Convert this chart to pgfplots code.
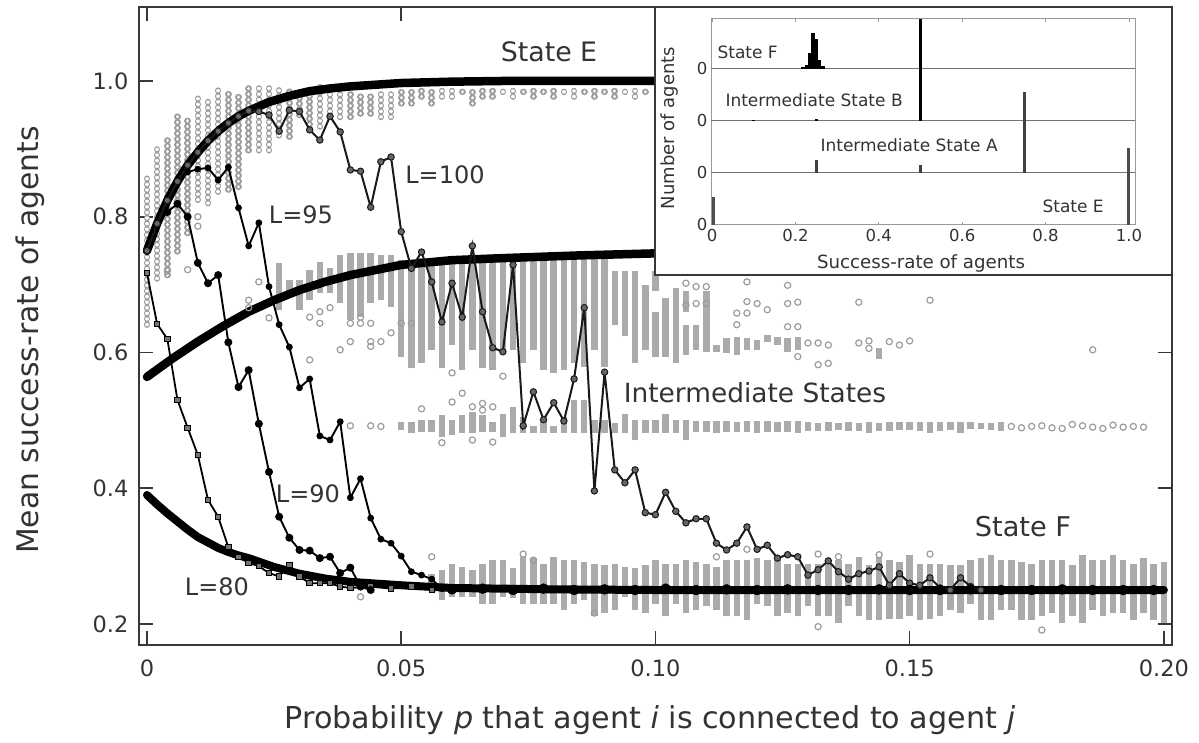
\documentclass[border=0pt]{standalone}
\usepackage{fontspec}
\setmainfont{DejaVu Sans}
\usepackage{pgfplots}
\usepackage{pgfplotstable}
\pgfplotsset{compat=1.18}
\definecolor{txt}{HTML}{333333}
\definecolor{barg}{HTML}{ABABAB}
\definecolor{ring}{HTML}{9C9C9C}
\pgfplotstableread[row sep=\\]{p lo hi\\
.000 .641 .864\\.002 .709 .903\\.004 .714 .913\\.006 .749 .952\\.008 .776 .943\\.010 .825 .982\\.012 .820 .972\\.014 .837 .991\\.016 .840 .982\\.018 .844 .982\\.020 .898 .991\\.022 .898 .991\\.024 .898 .991\\.026 .920 .991\\.028 .918 .991\\.030 .950 .991\\.032 .928 .991\\.034 .933 .991\\.036 .947 .982\\.038 .947 .982\\.040 .947 .982\\.042 .952 .982\\.044 .952 .982\\.046 .947 .982\\.048 .947 .982\\.050 .967 .984\\.052 .967 .984\\.054 .977 .987\\.056 .967 .987\\.058 .977 .987\\.060 .977 .987\\.062 .984 .989\\.064 .967 .989\\.066 .977 .987\\.068 .977 .987\\.070 .984 .989\\.072 .977 .987\\.074 .984 .989\\.076 .977 .987\\.078 .984 .989\\.080 .977 .987\\.082 .984 .989\\.084 .977 .987\\.086 .984 .989\\.088 .977 .987\\.090 .984 .989\\.092 .977 .987\\.094 .984 .989\\.096 .977 .987\\.098 .984 .989\\
}\tabE
\pgfplotstableread[row sep=\\]{p lo hi\\
.026 .663 .732\\.028 .688 .707\\.030 .663 .707\\.032 .677 .722\\.034 .688 .733\\.036 .688 .724\\.038 .673 .744\\.040 .648 .747\\.042 .652 .747\\.044 .673 .747\\.046 .677 .744\\.048 .667 .744\\.050 .593 .736\\.052 .577 .736\\.054 .585 .739\\.056 .603 .739\\.058 .577 .739\\.060 .611 .739\\.062 .574 .739\\.064 .603 .739\\.066 .577 .739\\.068 .574 .736\\.070 .603 .739\\.072 .604 .739\\.074 .584 .739\\.076 .604 .739\\.078 .574 .739\\.080 .570 .739\\.082 .574 .739\\.084 .584 .739\\.086 .579 .739\\.088 .604 .739\\.090 .579 .739\\.092 .640 .720\\.094 .624 .720\\.096 .584 .720\\.098 .604 .700\\.100 .594 .660\\.100 .690 .720\\.102 .594 .680\\.104 .584 .695\\.106 .596 .640\\.106 .660 .690\\.108 .604 .640\\.110 .601 .690\\.112 .601 .611\\.114 .599 .621\\.116 .596 .623\\.118 .604 .621\\.120 .604 .619\\.122 .616 .626\\.124 .611 .623\\.126 .601 .621\\.128 .604 .623\\.144 .591 .606\\
}\tabA
\pgfplotstableread[row sep=\\]{p lo hi\\
.050 .486 .498\\.052 .481 .498\\.054 .483 .500\\.056 .483 .500\\.058 .476 .508\\.060 .478 .500\\.062 .481 .508\\.064 .481 .513\\.066 .483 .508\\.068 .483 .498\\.070 .476 .510\\.072 .481 .520\\.074 .481 .505\\.076 .481 .491\\.078 .481 .501\\.080 .481 .491\\.082 .481 .505\\.084 .481 .530\\.086 .481 .530\\.088 .481 .501\\.090 .481 .501\\.092 .481 .496\\.094 .481 .510\\.096 .471 .501\\.098 .481 .501\\.100 .481 .501\\.102 .481 .510\\.104 .481 .501\\.106 .471 .501\\.108 .483 .499\\.110 .483 .499\\.112 .481 .499\\.114 .483 .499\\.116 .483 .497\\.118 .483 .499\\.120 .481 .499\\.122 .483 .499\\.124 .483 .497\\.126 .483 .499\\.128 .481 .499\\.130 .484 .498\\.132 .484 .496\\.134 .484 .498\\.136 .486 .496\\.138 .484 .498\\.140 .484 .496\\.142 .482 .498\\.144 .484 .496\\.146 .484 .498\\.148 .486 .498\\.150 .486 .497\\.152 .484 .497\\.154 .482 .497\\.156 .484 .497\\.158 .486 .497\\.160 .482 .497\\.162 .487 .497\\.164 .487 .496\\.166 .486 .496\\.168 .484 .497\\
}\tabM
\pgfplotstableread[row sep=\\]{p lo hi\\
.056 .252 .274\\.058 .235 .279\\.060 .240 .289\\.062 .240 .284\\.064 .240 .279\\.066 .230 .289\\.068 .230 .294\\.070 .240 .294\\.072 .238 .282\\.074 .230 .299\\.076 .230 .297\\.078 .230 .289\\.080 .230 .299\\.082 .221 .294\\.084 .230 .294\\.086 .235 .292\\.088 .211 .289\\.090 .216 .287\\.092 .221 .289\\.094 .240 .284\\.096 .221 .282\\.098 .216 .287\\.100 .230 .294\\.102 .211 .289\\.104 .230 .289\\.106 .216 .294\\.108 .221 .292\\.110 .226 .289\\.112 .221 .284\\.114 .211 .294\\.116 .211 .294\\.118 .206 .294\\.120 .230 .297\\.122 .226 .294\\.124 .211 .294\\.126 .216 .289\\.128 .211 .289\\.130 .226 .289\\.132 .211 .289\\.134 .211 .289\\.136 .201 .294\\.138 .226 .289\\.140 .211 .299\\.142 .206 .287\\.144 .206 .299\\.146 .208 .294\\.148 .208 .292\\.150 .211 .302\\.152 .206 .289\\.154 .208 .289\\.156 .211 .289\\.158 .221 .287\\.160 .216 .287\\.162 .230 .294\\.164 .206 .297\\.166 .206 .302\\.168 .221 .294\\.170 .221 .294\\.172 .206 .292\\.174 .206 .289\\.176 .211 .294\\.178 .216 .294\\.180 .201 .294\\.182 .211 .287\\.184 .201 .302\\.186 .221 .294\\.188 .211 .294\\.190 .216 .302\\.192 .216 .294\\.194 .206 .289\\.196 .216 .297\\.198 .206 .289\\.200 .201 .292\\
}\tabF
\pgfplotsset{
 colbase/.style={draw=none,forget plot,/pgfplots/error bars/y dir=plus,/pgfplots/error bars/y explicit,/pgfplots/error bars/error mark=none},
 solidcol/.style={colbase,/pgfplots/error bars/error bar style={draw=barg,line width=6.5pt,solid,line cap=butt}},
 ringA/.style={colbase,/pgfplots/error bars/error bar style={draw=ring,line width=6.6pt,line cap=round,dash pattern=on 0.01pt off 5.6pt}},
 ringB/.style={colbase,/pgfplots/error bars/error bar style={draw=white,line width=3.4pt,line cap=round,dash pattern=on 0.01pt off 5.6pt}},
 hbar/.style 2 args={colbase,/pgfplots/error bars/error bar style={draw=#1,line width=#2,solid,line cap=butt}},
}
\begin{document}
\begin{tikzpicture}[x=1pt,y=1pt]
\useasboundingbox (0,0) rectangle (1199,743);
\begin{axis}[at={(139pt,98pt)},anchor=south west,scale only axis,width=1033pt,height=638pt,
 xmin=-0.00157,xmax=0.2016,ymin=0.169,ymax=1.109,
 axis line style={draw=black!78,line width=1.6pt},
 tick style={draw=black!78,line width=1.6pt},tick align=inside,major tick length=14pt,
 xtick={0,0.05,0.10,0.15,0.20},xticklabels={0,0.05,0.10,0.15,0.20},
 ytick={0.2,0.4,0.6,0.8,1.0},yticklabels={0.2,0.4,0.6,0.8,1.0},
 tick label style={font=\fontsize{22.5}{26}\selectfont,text=txt},
 xticklabel style={yshift=-11pt},yticklabel style={xshift=-7pt},
 xlabel={Probability \textit{p} that agent \textit{i} is connected to agent \textit{j}},
 ylabel={Mean success-rate of agents},
 xlabel style={at={(axis description cs:0.4947,-0.1176)},anchor=center,font=\fontsize{30.2}{34}\selectfont,text=txt},
 ylabel style={at={(axis description cs:-0.1055,0.478)},anchor=center,font=\fontsize{29.8}{34}\selectfont,text=txt},
 clip=true]
\addplot[ringA] table[x=p,y=lo,y error expr=\thisrow{hi}-\thisrow{lo}]{\tabE};
\addplot[ringB] table[x=p,y=lo,y error expr=\thisrow{hi}-\thisrow{lo}]{\tabE};
\addplot[solidcol] table[x=p,y=lo,y error expr=\thisrow{hi}-\thisrow{lo}]{\tabA};
\addplot[solidcol] table[x=p,y=lo,y error expr=\thisrow{hi}-\thisrow{lo}]{\tabM};
\addplot[solidcol] table[x=p,y=lo,y error expr=\thisrow{hi}-\thisrow{lo}]{\tabF};
% isolated agents
\addplot[only marks,mark=o,mark size=3.1pt,mark options={draw=ring,line width=1.2pt},forget plot] coordinates {
(.010,.800)(.010,.786)(.008,.722)(.004,.72)(.022,.704)(.020,.677)(.020,.666)(.024,.651)(.032,.652)(.034,.660)(.034,.643)(.036,.666)(.032,.589)(.038,.604)(.040,.616)(.044,.616)(.044,.609)(.046,.616)(.048,.629)(.050,.643)(.052,.643)(.040,.643)(.042,.643)(.044,.643)(.042,.652)
(.054,.517)(.060,.527)(.062,.540)(.064,.52)(.066,.525)(.066,.515)(.068,.52)(.058,.467)(.064,.471)(.068,.468)(.060,.570)(.070,.565)(.040,.492)(.044,.492)(.046,.491)
(.056,.299)(.042,.240)(.106,.702)(.108,.697)(.110,.697)(.118,.704)(.126,.699)(.140,.674)(.106,.670)(.108,.672)(.110,.672)(.116,.658)(.118,.658)(.118,.675)(.120,.672)(.122,.663)(.126,.672)(.128,.674)(.116,.641)(.126,.638)(.128,.638)(.128,.594)(.132,.582)(.134,.584)(.130,.614)(.132,.614)(.134,.611)(.140,.614)(.142,.617)(.142,.606)(.146,.616)(.148,.611)(.150,.617)(.154,.677)(.186,.604)
(.132,.196)(.176,.191)(.154,.303)(.144,.302)(.132,.303)(.136,.299)(.112,.299)(.076,.294)(.118,.310)(.088,.216)(.074,.303)
(.170,.491)(.172,.489)(.174,.491)(.176,.492)(.178,.489)(.180,.488)(.182,.494)(.184,.492)(.186,.490)(.188,.488)(.190,.493)(.192,.490)(.194,.491)(.196,.490)
};
% mean curves of states E, intermediate, F
\addplot[black,line width=8.5pt,line cap=round,forget plot] coordinates {(0,.750)(.002,.790)(.004,.824)(.006,.852)(.008,.876)(.010,.895)(.012,.912)(.014,.926)(.016,.938)(.018,.948)(.020,.956)(.024,.969)(.028,.978)(.032,.985)(.036,.989)(.040,.992)(.050,.997)(.060,.999)(.070,1)(.100,1)(.12,1)};
\addplot[black,line width=8.5pt,line cap=round,forget plot] coordinates {(0,.564)(.005,.591)(.010,.616)(.015,.639)(.020,.660)(.025,.677)(.030,.692)(.035,.704)(.040,.714)(.050,.729)(.060,.736)(.070,.739)(.085,.743)(.100,.746)(.120,.748)};
\addplot[black,line width=8pt,line cap=round,forget plot] coordinates {(0,.390)(.002,.376)(.004,.363)(.006,.351)(.008,.339)(.010,.328)(.012,.320)(.014,.312)(.016,.306)(.018,.301)(.020,.297)(.025,.284)(.030,.274)(.035,.267)(.040,.262)(.050,.257)(.060,.253)(.080,.251)(.100,.250)(.150,.250)(.200,.250)};
% L=80
\addplot[black,line width=1.8pt,mark=square*,mark size=2.7pt,mark options={fill=black!55,draw=black,line width=1pt},forget plot] coordinates {(0,.717)(.002,.642)(.004,.620)(.006,.530)(.008,.489)(.010,.449)(.012,.383)(.014,.358)(.016,.313)(.018,.299)(.020,.290)(.022,.285)(.024,.275)(.026,.27)(.028,.287)(.030,.27)(.032,.26)(.034,.26)(.036,.26)(.038,.255)(.040,.253)(.044,.255)(.048,.252)(.052,.255)(.056,.25)};
% L=90
\addplot[black,line width=1.9pt,mark=*,mark size=3pt,forget plot] coordinates {(0,.75)(.002,.79)(.004,.807)(.006,.819)(.008,.800)(.010,.732)(.012,.702)(.014,.714)(.016,.615)(.018,.549)(.020,.574)(.022,.495)(.024,.424)(.026,.358)(.028,.327)(.030,.309)(.032,.308)(.034,.297)(.036,.299)(.038,.275)(.040,.283)(.042,.255)(.044,.25)};
% L=95
\addplot[black,line width=1.9pt,mark=*,mark size=2.4pt,forget plot] coordinates {(0,.75)(.002,.79)(.004,.824)(.006,.852)(.008,.866)(.010,.870)(.012,.872)(.014,.854)(.016,.873)(.018,.813)(.020,.757)(.022,.791)(.024,.697)(.026,.641)(.028,.608)(.030,.548)(.032,.561)(.034,.477)(.036,.471)(.038,.498)(.040,.386)(.042,.414)(.044,.356)(.046,.325)(.048,.319)(.050,.300)(.052,.277)(.054,.272)(.056,.266)(.058,.252)(.060,.25)};
% L=100
\addplot[black!90,line width=2pt,mark=*,mark size=3.2pt,mark options={fill=black!60,draw=black!90,line width=1pt},forget plot] coordinates {(0,.75)(.002,.79)(.004,.824)(.006,.852)(.008,.876)(.010,.895)(.012,.912)(.014,.926)(.016,.938)(.018,.948)(.020,.956)(.022,.955)(.024,.950)(.026,.926)(.028,.957)(.030,.955)(.032,.928)(.034,.913)(.036,.948)(.038,.925)(.040,.869)(.042,.867)(.044,.814)(.046,.881)(.048,.888)(.050,.778)(.052,.724)(.054,.748)(.056,.704)(.058,.645)(.060,.702)(.062,.652)(.064,.757)(.066,.660)(.068,.607)(.070,.601)(.072,.729)(.074,.492)(.076,.542)(.078,.501)(.080,.526)(.082,.499)(.084,.561)(.086,.666)(.088,.396)(.090,.571)(.092,.427)(.094,.408)(.096,.427)(.098,.364)(.100,.361)(.102,.394)(.104,.366)(.106,.349)(.108,.355)(.110,.355)(.112,.319)(.114,.309)(.116,.319)(.118,.343)(.120,.310)(.122,.316)(.124,.297)(.126,.302)(.128,.299)(.130,.272)(.132,.280)(.134,.293)(.136,.277)(.138,.266)(.140,.274)(.142,.278)(.144,.284)(.146,.257)(.148,.274)(.150,.260)(.152,.257)(.154,.268)(.156,.253)(.158,.25)(.160,.268)(.162,.255)(.164,.25)};
% black marks along the F curve
\addplot[only marks,mark=*,mark size=5pt,black,forget plot] coordinates {(.06,.251)(.066,.252)(.072,.25)(.078,.252)(.084,.25)(.09,.251)(.096,.25)(.102,.252)(.108,.25)(.114,.251)(.12,.25)(.126,.251)(.132,.25)(.138,.25)(.144,.251)(.15,.25)(.156,.25)(.162,.251)(.168,.25)(.174,.25)(.18,.251)(.186,.25)(.192,.25)(.198,.25)};
\end{axis}
\begin{scope}[text=txt]
\node[font=\fontsize{26.8}{30}\selectfont] at (549,691) {State E};
\node[font=\fontsize{27.2}{30}\selectfont] at (1023,216) {State F};
\node[font=\fontsize{26.4}{30}\selectfont] at (755,350) {Intermediate States};
\node[font=\fontsize{24}{28}\selectfont] at (445,568) {L=100};
\node[font=\fontsize{24}{28}\selectfont] at (301,528) {L=95};
\node[font=\fontsize{24}{28}\selectfont] at (308,249) {L=90};
\node[font=\fontsize{24}{28}\selectfont] at (217,156) {L=80};
\end{scope}
% inset
\draw[draw=black!78,line width=1.6pt,fill=white] (655,736) rectangle (1172,468);
\begin{axis}[at={(711pt,518pt)},anchor=south west,scale only axis,width=424pt,height=206pt,
 xmin=-0.0024,xmax=1.0144,ymin=0,ymax=206,
 axis line style={draw=black!40,line width=1pt},
 tick style={draw=black!40,line width=0.8pt},tick align=inside,major tick length=3pt,
 xtick={0,0.2,0.4,0.6,0.8,1.0},xticklabels={0,0.2,0.4,0.6,0.8,1.0},
 ytick={0,52,104,156},yticklabels={0,0,0,0},ytick style={draw=none},
 tick label style={font=\fontsize{16.5}{20}\selectfont,text=txt},
 xticklabel style={yshift=-1pt},yticklabel style={xshift=0pt},
 xlabel={Success-rate of agents},ylabel={Number of agents},
 xlabel style={at={(axis description cs:0.4953,-0.1845)},anchor=center,font=\fontsize{18.2}{22}\selectfont,text=txt},
 ylabel style={at={(axis description cs:-0.0967,0.4709)},anchor=center,font=\fontsize{18}{22}\selectfont,text=txt},
 clip=false]
\addplot[black!55,line width=1pt,forget plot] coordinates {(-0.0024,52)(1.0144,52)};
\addplot[black!55,line width=1pt,forget plot] coordinates {(-0.0024,104)(1.0144,104)};
\addplot[black!55,line width=1pt,forget plot] coordinates {(-0.0024,156)(1.0144,156)};
\addplot[hbar={black!70}{3.2pt}] table[row sep=\\,x=v,y=b,y error=h]{v b h\\.003 0 28\\.998 0 77\\};
\addplot[hbar={black!75}{3.2pt}] table[row sep=\\,x=v,y=b,y error=h]{v b h\\.25 52 13\\.5 52 8\\.75 52 81\\};
\addplot[hbar={black}{3.4pt}] table[row sep=\\,x=v,y=b,y error=h]{v b h\\.5 104 102\\.1 104 1\\.25 104 1.5\\};
\addplot[hbar={black}{3.4pt}] table[row sep=\\,x=v,y=b,y error=h]{v b h\\.218 156 2\\.226 156 4\\.234 156 16\\.242 156 36\\.250 156 30\\.258 156 9\\.266 156 3\\};
\end{axis}
\begin{scope}[text=txt]
\node[font=\fontsize{17}{20}\selectfont,anchor=west] at (714,691) {State F};
\node[font=\fontsize{17}{20}\selectfont,anchor=west] at (722,643) {Intermediate State B};
\node[font=\fontsize{17}{20}\selectfont,anchor=west] at (817,598) {Intermediate State A};
\node[font=\fontsize{17}{20}\selectfont,anchor=west] at (1039,537) {State E};
\end{scope}
\end{tikzpicture}
\end{document}
